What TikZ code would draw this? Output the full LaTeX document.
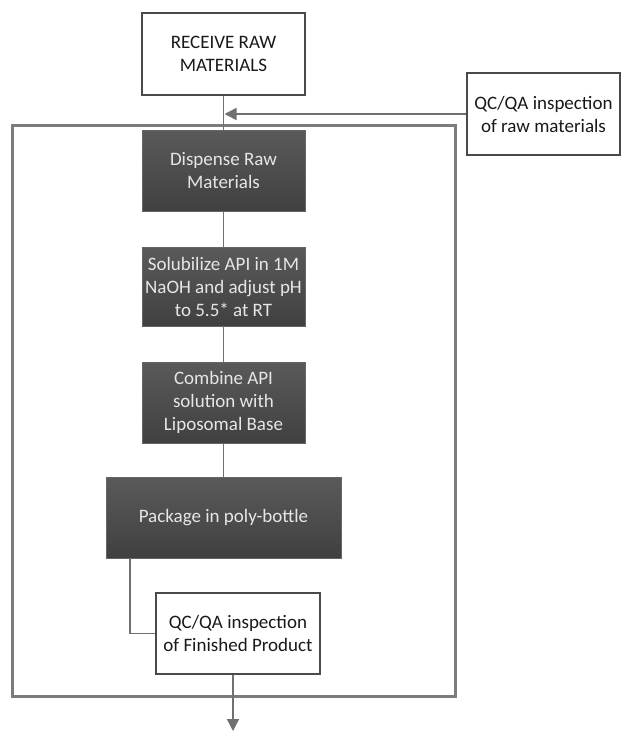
\documentclass[tikz,border=0pt]{standalone}
\usepackage{fontspec}
\setmainfont{Carlito}
\usetikzlibrary{arrows.meta,calc}
\definecolor{linegray}{HTML}{707070}
\definecolor{framegray}{HTML}{7C7C7C}
\definecolor{boxborder}{HTML}{4A4A4A}
\definecolor{darktop}{HTML}{5A5A5A}
\definecolor{darkbot}{HTML}{404040}
\definecolor{lighttext}{HTML}{E6E6E6}
\tikzset{
  whitebox/.style={draw=boxborder, line width=1.8pt, fill=white, align=center, inner sep=0pt,
    font=\fontsize{19}{23}\selectfont, text=black!90},
  darkbox/.style={draw=darkbot!80, line width=0.8pt, top color=darktop, bottom color=darkbot,
    align=center, inner sep=0pt, text=lighttext, font=\fontsize{19}{23}\selectfont},
  conn/.style={draw=linegray, line width=1.5pt},
  arr/.style={conn, -{Triangle[length=12pt,width=12pt]}},
  framebox/.style={draw=framegray, line width=3pt}
}
\begin{document}
\begin{tikzpicture}[x=1pt,y=-1pt]
\useasboundingbox (0,0) rectangle (621,731);
% frame
\draw[framebox] (12,125) rectangle (455,696);
% nodes
\node[whitebox, minimum width=163pt, minimum height=82pt] (recv) at (223.5,54) {RECEIVE RAW\\MATERIALS};
\node[whitebox, minimum width=153pt, minimum height=82pt] (qcraw) at (543.5,114) {QC/QA inspection\\of raw materials};
\node[darkbox, minimum width=163pt, minimum height=81pt] (disp) at (223.5,170.5) {Dispense Raw\\Materials};
\node[darkbox, minimum width=163pt, minimum height=79pt] (solub) at (223.5,286.5) {Solubilize API in 1M\\NaOH and adjust pH\\to 5.5* at RT};
\node[darkbox, minimum width=163pt, minimum height=81pt] (comb) at (223.5,402.5) {Combine API\\solution with\\Liposomal Base};
\node[darkbox, minimum width=235pt, minimum height=81pt] (pkg) at (223.5,517.5) {Package in poly-bottle};
\node[whitebox, minimum width=164pt, minimum height=81pt] (qcf) at (238,633.5) {QC/QA inspection\\of Finished Product};
% coordinates
\coordinate (join) at (recv.south |- qcraw.west);
\coordinate (pkgout) at (pkg.south -| 130,0);
\coordinate (qcfout) at (qcf.south -| 233,0);
\coordinate (finish) at (233,731);
% connectors
\draw[conn] (recv.south) -- (disp.north);
\draw[arr] (qcraw.west) -- ($(join)+(1pt,0)$);
\draw[conn] (disp.south) -- (solub.north);
\draw[conn] (solub.south) -- (comb.north);
\draw[conn] (comb.south) -- (pkg.north);
\draw[conn] (pkgout) |- (qcf.west);
\draw[arr] (qcfout) -- (finish);
\end{tikzpicture}
\end{document}
